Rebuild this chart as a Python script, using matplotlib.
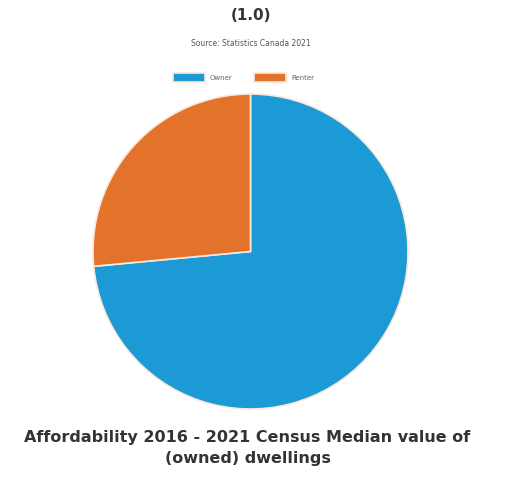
import matplotlib.pyplot as plt

labels = ['Owner', 'Renter']
shares = [73.5, 26.5]
colors = ['#1b9ad6', '#e3732b']

fig = plt.figure(figsize=(5.05, 4.78), dpi=100)
ax = fig.add_axes([93 / 505, 69 / 478, 315 / 505, 315 / 478])

wedges, _ = ax.pie(shares, colors=colors, startangle=90, counterclock=False,
                   radius=1.0, wedgeprops=dict(edgecolor='#fbe8dc', linewidth=1.2))
ax.set_xlim(-1.0, 1.0)
ax.set_ylim(-1.0, 1.0)
ax.set_aspect('equal')

fig.text(0.497, 0.968, '(1.0)', ha='center', va='center',
         fontsize=11, fontweight='bold', color='#333333')
fig.text(0.497, 0.908, 'Source: Statistics Canada 2021', ha='center', va='center',
         fontsize=5.5, color='#555555')

fig.legend(wedges, labels, loc='center', bbox_to_anchor=(0.482, 0.838), ncol=2,
           frameon=False, fontsize=5, handlelength=4.6, handleheight=1.6,
           columnspacing=3.0, handletextpad=0.8, labelcolor='#666666')

fig.text(0.49, 0.063, 'Affordability 2016 - 2021 Census Median value of\n(owned) dwellings',
         ha='center', va='center', fontsize=11.5, fontweight='bold',
         color='#333333', linespacing=1.5)

fig.savefig('out.png', dpi=100, facecolor='white')
